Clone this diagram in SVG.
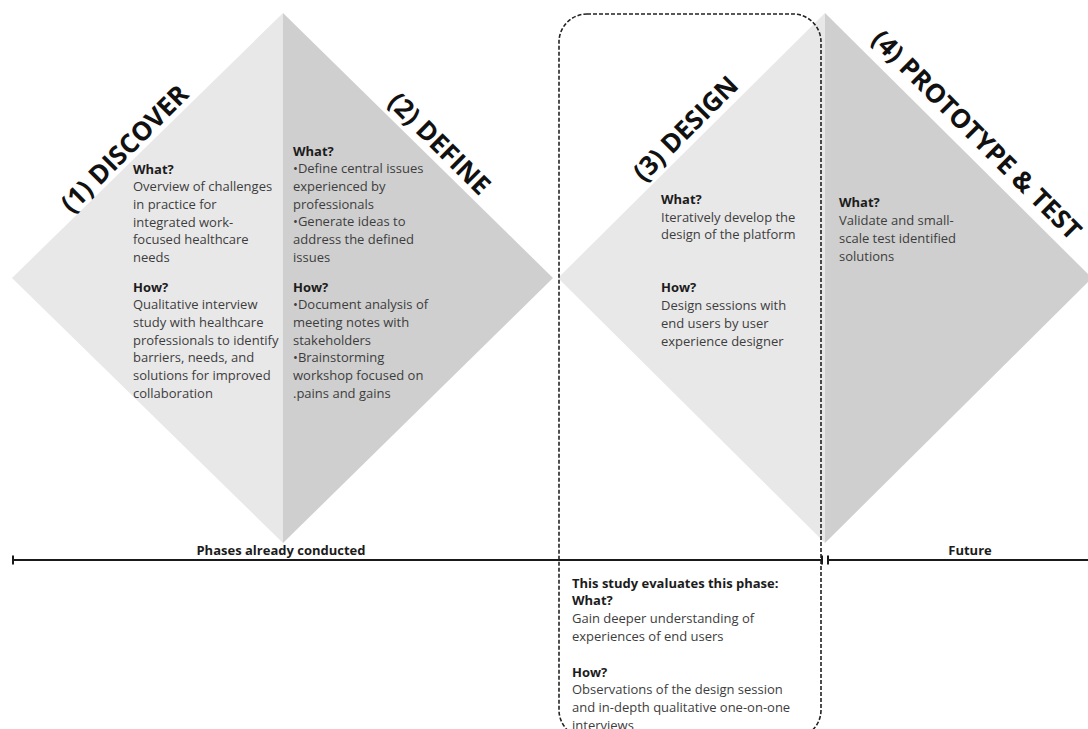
<svg xmlns="http://www.w3.org/2000/svg" width="1088" height="729" viewBox="0 0 1088 729">
  <style>
    .light { fill: #e9e8e9; }
    .dark { fill: #cfcfcf; }
    .title { font-family: "Open Sans", "Liberation Sans", sans-serif; font-weight: 700; font-size: 26px; fill: #111; }
    .head { font-family: "Open Sans", "Liberation Sans", sans-serif; font-weight: 700; font-size: 13px; fill: #1c1c1c; }
    .body { font-family: "Open Sans", "Liberation Sans", sans-serif; font-size: 13px; fill: #3d3d3d; }
    .label { font-family: "Open Sans", "Liberation Sans", sans-serif; font-weight: 700; font-size: 13px; fill: #1c1c1c; text-anchor: middle; }
    .axis { stroke: #1a1a1a; stroke-width: 2; fill: none; }
    .frame { fill: none; stroke: #222; stroke-width: 1.6; stroke-dasharray: 4 2; }
  </style>
  <rect width="1088" height="729" fill="#fff"/>

  <!-- Phase 1: left half of the first diamond -->
  <g id="phase-discover">
    <polygon class="light" points="283,13 283,543 12,278"/>
    <text class="title" text-anchor="middle" transform="translate(131,155) rotate(-45)">(1) DISCOVER</text>
    <text class="head" x="133" y="173.5">What?</text>
    <text class="body" x="133" y="191.2">
      <tspan x="133">Overview of challenges</tspan>
      <tspan x="133" dy="17.75">in practice for</tspan>
      <tspan x="133" dy="17.75">integrated work-</tspan>
      <tspan x="133" dy="17.75">focused healthcare</tspan>
      <tspan x="133" dy="17.75">needs</tspan>
    </text>
    <text class="head" x="133" y="291.5">How?</text>
    <text class="body" x="133" y="309.2">
      <tspan x="133">Qualitative interview</tspan>
      <tspan x="133" dy="17.75">study with healthcare</tspan>
      <tspan x="133" dy="17.75">professionals to identify</tspan>
      <tspan x="133" dy="17.75">barriers, needs, and</tspan>
      <tspan x="133" dy="17.75">solutions for improved</tspan>
      <tspan x="133" dy="17.75">collaboration</tspan>
    </text>
  </g>

  <!-- Phase 2: right half of the first diamond -->
  <g id="phase-define">
    <polygon class="dark" points="283,13 553,278 283,543"/>
    <text class="title" text-anchor="middle" transform="translate(433,150) rotate(45)">(2) DEFINE</text>
    <text class="head" x="293" y="155.5">What?</text>
    <text class="body" x="293" y="173.2">
      <tspan x="293">•Define central issues</tspan>
      <tspan x="293" dy="17.75">experienced by</tspan>
      <tspan x="293" dy="17.75">professionals</tspan>
      <tspan x="293" dy="17.75">•Generate ideas to</tspan>
      <tspan x="293" dy="17.75">address the defined</tspan>
      <tspan x="293" dy="17.75">issues</tspan>
    </text>
    <text class="head" x="293" y="291.5">How?</text>
    <text class="body" x="293" y="309.2">
      <tspan x="293">•Document analysis of</tspan>
      <tspan x="293" dy="17.75">meeting notes with</tspan>
      <tspan x="293" dy="17.75">stakeholders</tspan>
      <tspan x="293" dy="17.75">•Brainstorming</tspan>
      <tspan x="293" dy="17.75">workshop focused on</tspan>
      <tspan x="293" dy="17.75">.pains and gains</tspan>
    </text>
  </g>

  <!-- Phase 3: left half of the second diamond -->
  <g id="phase-design">
    <polygon class="light" points="825,13 825,543 558,278"/>
    <text class="title" text-anchor="middle" transform="translate(692,135) rotate(-45)">(3) DESIGN</text>
    <text class="head" x="661" y="203.5">What?</text>
    <text class="body" x="661" y="221.5">
      <tspan x="661">Iteratively develop the</tspan>
      <tspan x="661" dy="17.75">design of the platform</tspan>
    </text>
    <text class="head" x="661" y="291.5">How?</text>
    <text class="body" x="661" y="309.5">
      <tspan x="661">Design sessions with</tspan>
      <tspan x="661" dy="18">end users by user</tspan>
      <tspan x="661" dy="18">experience designer</tspan>
    </text>
  </g>

  <!-- Phase 4: right half of the second diamond -->
  <g id="phase-prototype">
    <polygon class="dark" points="825,13 1092,278 825,543"/>
    <text class="title" transform="translate(870,41) rotate(45)">(4) PROTOTYPE &amp; TEST</text>
    <text class="head" x="839" y="206.5">What?</text>
    <text class="body" x="839" y="225">
      <tspan x="839">Validate and small-</tspan>
      <tspan x="839" dy="17.75">scale test identified</tspan>
      <tspan x="839" dy="17.75">solutions</tspan>
    </text>
  </g>

  <!-- Dashed frame marking the evaluated phase -->
  <g id="study-focus">
    <rect class="frame" x="559" y="14" width="262" height="724" rx="28" ry="28"/>
    <text class="head" x="572" y="587.5">This study evaluates this phase:</text>
    <text class="head" x="572" y="605.2">What?</text>
    <text class="body" x="572" y="623">
      <tspan x="572">Gain deeper understanding of</tspan>
      <tspan x="572" dy="17.75">experiences of end users</tspan>
    </text>
    <text class="head" x="572" y="676.5">How?</text>
    <text class="body" x="572" y="694.2">
      <tspan x="572">Observations of the design session</tspan>
      <tspan x="572" dy="17.75">and in-depth qualitative one-on-one</tspan>
      <tspan x="572" dy="17.75">interviews</tspan>
    </text>
  </g>

  <!-- Timeline connectors -->
  <g id="timeline">
    <line class="axis" x1="12" y1="560" x2="822" y2="560"/>
    <line class="axis" x1="13" y1="555.5" x2="13" y2="564.5"/>
    <line class="axis" x1="822" y1="555.5" x2="822" y2="564.5"/>
    <line class="axis" x1="828" y1="560" x2="1088" y2="560"/>
    <line class="axis" x1="828" y1="555.5" x2="828" y2="564.5"/>
    <text class="label" x="281" y="555">Phases already conducted</text>
    <text class="label" x="970" y="555">Future</text>
  </g>
</svg>
